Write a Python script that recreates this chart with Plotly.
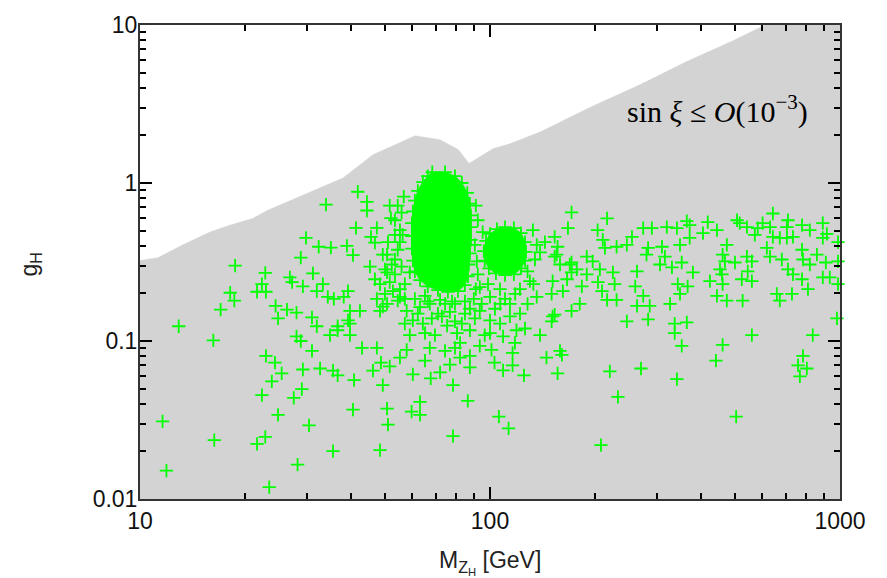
import plotly.graph_objects as go

# ---------------- data ----------------
# upper edge of the allowed (grey) region: M_ZH [GeV], g_H
boundary_M = [10, 11.26, 13.27, 15.85, 18.07, 21.0, 23.1, 28.1, 38.0, 46.3, 61.1, 71.9,
              81.1, 87.1, 102, 114, 139, 193, 268, 366, 495, 611, 1000]
boundary_g = [0.323, 0.337, 0.406, 0.489, 0.541, 0.597, 0.670, 0.807, 1.074, 1.51, 1.99, 1.88,
              1.63, 1.33, 1.65, 1.77, 2.10, 3.01, 4.18, 5.89, 7.96, 10, 10]
floor_g = 0.005

# dense clusters of scan points (outline of the saturated region)
cluster1 = [(68.4, 1.17), (74.4, 1.17), (79.4, 1.105), (83.1, 1.0), (86.1, 0.867), (87.6, 0.741),
            (88.2, 0.624), (88.2, 0.525), (88.2, 0.436), (87.6, 0.359), (87.0, 0.305), (86.5, 0.257),
            (84.8, 0.226), (81.0, 0.207), (75.8, 0.205), (71.0, 0.21), (66.4, 0.222), (63.1, 0.243),
            (61.0, 0.276), (60.2, 0.323), (59.8, 0.384), (59.8, 0.462), (59.8, 0.557), (60.2, 0.661),
            (61.0, 0.773), (62.2, 0.892), (64.3, 1.014), (66.4, 1.105)]
cluster2 = [(110.4, 0.525), (117, 0.518), (122.6, 0.482), (125.9, 0.423), (126.7, 0.366), (125.9, 0.323),
            (122.6, 0.288), (117, 0.264), (110.4, 0.261), (104, 0.268), (99.3, 0.288), (96.6, 0.323),
            (96.0, 0.371), (97.4, 0.43), (100, 0.476), (104.7, 0.51)]

# scattered scan points
points_low_mass = [
    (41.9, 0.88), (56.7, 0.82), (44.5, 0.76), (44.5, 0.67), (34.0, 0.73), (41.4, 0.52), (52.1, 0.60),
    (47.5, 0.52), (45.7, 0.456), (46.9, 0.42), (29.8, 0.45), (32.4, 0.395), (35.1, 0.39), (39.0, 0.40),
    (40.6, 0.35), (28.8, 0.337), (18.7, 0.30), (22.8, 0.27), (31.2, 0.268), (26.8, 0.253), (27.2, 0.236),
    (22.3, 0.229), (21.6, 0.205), (22.9, 0.205), (18.1, 0.202), (18.6, 0.18), (17.0, 0.158), (12.9, 0.124),
    (16.2, 0.101), (24.4, 0.167), (24.8, 0.139), (26.3, 0.158), (28.0, 0.151), (29.2, 0.222), (32.0, 0.207),
    (33.3, 0.229), (34.4, 0.19), (35.8, 0.185), (31.0, 0.141), (32.0, 0.124), (28.0, 0.107), (28.8, 0.100),
    (31.0, 0.0866), (22.9, 0.0806), (24.3, 0.073), (29.2, 0.066), (32.7, 0.067), (35.6, 0.065),
    (36.7, 0.0606), (45.4, 0.296), (46.9, 0.246), (50.8, 0.272), (39.3, 0.207), (38.2, 0.19), (39.8, 0.155),
    (39.3, 0.135), (36.7, 0.124), (34.9, 0.109), (39.8, 0.109), (42.5, 0.155), (47.5, 0.185), (49.4, 0.165),
    (52.8, 0.207), (55.3, 0.19), (43.1, 0.0905), (47.5, 0.0905), (48.8, 0.073), (51.7, 0.069), (46.3, 0.065),
    (59.0, 0.272), (57.8, 0.155), (60.2, 0.135), (59.0, 0.109), (57.8, 0.0878), (25.4, 0.0624),
    (23.8, 0.0556), (60.2, 0.0615), (67.7, 0.058), (40.9, 0.0565), (22.3, 0.0455), (29.0, 0.0496),
    (27.5, 0.0437), (24.8, 0.0341), (11.6, 0.031), (30.4, 0.0292), (22.8, 0.0247), (21.6, 0.0223),
    (16.3, 0.0236), (35.6, 0.0201), (48.5, 0.0204), (11.9, 0.0151), (28.2, 0.0165), (23.4, 0.0119),
    (40.6, 0.0368), (50.8, 0.0373), (51.1, 0.0296), (59.7, 0.0357), (63.1, 0.0412), (63.1, 0.0341),
    (78.4, 0.025), (86.4, 0.0418), (49.4, 0.0525), (78.4, 0.0525), (55.3, 0.0784), (36.7, 0.117),
    (39.8, 0.129), (55.9, 0.65), (55.3, 0.503), (55.3, 0.423), (51.1, 0.423), (50.8, 0.352), (54.5, 0.18),
    (50.8, 0.172), (48.5, 0.155), (53.5, 0.328), (57.1, 0.229), (53.5, 0.264),
    (54.5, 0.72), (53.5, 0.581), (56.3, 0.469), (54.5, 0.378), (52.4, 0.305), (55.9, 0.296), (51.7, 0.236),
    (55.3, 0.213), (50.1, 0.199), (57.1, 0.185), (48.5, 0.229), (49.4, 0.352),
    (53.5, 0.469), (51.7, 0.72), (50.1, 0.284),
]
points_mid_mass = [
    (63.1, 0.164), (67.3, 0.172), (57.1, 0.129), (64.3, 0.129), (72.9, 0.143), (75.4, 0.125), (69.6, 0.109),
    (80.5, 0.112), (87.6, 0.117), (67.3, 0.0905), (74.4, 0.0866), (82.1, 0.0972), (93.5, 0.0932),
    (101, 0.0878), (87.6, 0.0806), (116, 0.0842), (96.6, 0.109), (109, 0.107), (119, 0.117), (93.5, 0.155),
    (100, 0.135), (114, 0.143), (128, 0.172), (93.5, 0.219), (100, 0.19), (95.3, 0.489), (91.7, 0.319),
    (136, 0.406), (143.5, 0.423), (139, 0.364), (153, 0.456), (155, 0.352), (167, 0.518), (171, 0.651),
    (151, 0.239), (161.5, 0.207), (171, 0.314), (171, 0.272), (151, 0.143), (139, 0.109), (158.5, 0.0866),
    (128, 0.276), (133, 0.229), (136, 0.19), (79.4, 0.172), (84.8, 0.149), (107, 0.172), (118, 0.199),
    (76.8, 0.0709), (72.0, 0.0633), (87.6, 0.068), (103, 0.073), (65.2, 0.0751),
    (91.1, 0.72), (92.3, 0.581), (90.5, 0.406), (92.3, 0.264), (91.1, 0.213), (89.9, 0.185), (94.7, 0.172),
    (65.2, 0.193), (74.4, 0.172), (71.0, 0.149), (79.4, 0.133), (87.6, 0.16), (103.3, 0.16), (110.4, 0.185),
    (121.8, 0.149), (106.8, 0.129), (125.9, 0.12), (117.8, 0.0972), (100, 0.112), (82.1, 0.0784),
    (121.8, 0.213), (130, 0.239), (134.4, 0.328), (132.6, 0.503),
    (61.0, 0.185), (66.4, 0.178), (72.0, 0.182), (77.9, 0.178), (84.8, 0.178), (62.2, 0.149), (68.2, 0.139),
    (76.8, 0.153), (83.1, 0.129), (90.5, 0.139), (65.2, 0.112), (79.4, 0.0905), (106.8, 0.213), (114, 0.172),
    (98.7, 0.229),
]
points_high_mass = [
    (216, 0.598), (203, 0.503), (156, 0.395), (153, 0.342), (158.5, 0.305), (169, 0.305), (189, 0.342),
    (196.5, 0.319), (210, 0.436), (213, 0.389), (230, 0.395), (246, 0.406), (254.5, 0.456), (274, 0.518),
    (290, 0.518), (320, 0.525), (342, 0.518), (365, 0.573), (372, 0.541), (419, 0.565), (406, 0.482),
    (445, 0.503), (372, 0.449), (310, 0.395), (283, 0.389), (280, 0.352), (316, 0.342), (349, 0.406),
    (353, 0.314), (306, 0.305), (331, 0.292), (263, 0.276), (260, 0.222), (224.5, 0.272), (227, 0.229),
    (206, 0.284), (203.5, 0.236), (209, 0.207), (189, 0.264), (183, 0.222), (177, 0.284), (166, 0.246),
    (150, 0.199), (180.5, 0.172), (171, 0.155), (153, 0.147), (150, 0.133), (145, 0.0784), (160.5, 0.0818),
    (156, 0.0624), (125, 0.0606), (109, 0.0651), (116, 0.070), (220, 0.0642), (270, 0.067), (342, 0.0573),
    (216, 0.182), (230, 0.182), (246, 0.133), (274, 0.193), (263, 0.167), (286, 0.167), (283, 0.137),
    (327, 0.172), (337, 0.129), (365, 0.131), (337, 0.112), (353, 0.0932), (344, 0.229), (367, 0.222),
    (349, 0.199), (380, 0.272), (425, 0.239), (460, 0.264), (454, 0.284), (469, 0.319), (462, 0.229),
    (445, 0.193), (475, 0.18), (527, 0.18), (524, 0.246), (560, 0.239), (501, 0.314), (475, 0.406),
    (462, 0.352), (542, 0.342), (560, 0.319), (545, 0.276), (517, 0.557), (508, 0.581), (542, 0.525),
    (571, 0.469), (582, 0.518), (601, 0.557), (643, 0.641), (631, 0.525), (643, 0.456), (673, 0.449),
    (705, 0.449), (734, 0.456), (710, 0.581), (705, 0.525), (779, 0.541), (820, 0.503), (893, 0.557),
    (917, 0.476), (893, 0.449), (987, 0.423), (618, 0.389), (631, 0.342), (682, 0.328), (779, 0.378),
    (784, 0.328), (820, 0.305), (859, 0.352), (911, 0.314), (987, 0.319), (710, 0.284), (734, 0.264),
    (779, 0.246), (810, 0.213), (660, 0.199), (673, 0.18), (729, 0.199), (893, 0.253), (935, 0.253),
    (987, 0.229), (980, 0.139), (836, 0.109), (560, 0.109), (462, 0.0945), (442, 0.0751), (784, 0.0806),
    (759, 0.07), (804, 0.067), (768, 0.0597), (232, 0.0443), (505, 0.0332), (106, 0.0332), (113, 0.028),
    (207.5, 0.0219),
]

x_tickvals = [10, 100, 1000]
x_ticktext = ["10", "100", "1000"]
y_tickvals = [0.01, 0.1, 1, 10]
y_ticktext = ["0.01", "0.1", "1", "10"]
x_minor = [20, 30, 40, 50, 60, 70, 80, 90, 200, 300, 400, 500, 600, 700, 800, 900]
y_minor = [0.02, 0.03, 0.04, 0.05, 0.06, 0.07, 0.08, 0.09, 0.2, 0.3, 0.4, 0.5, 0.6, 0.7, 0.8, 0.9,
           2, 3, 4, 5, 6, 7, 8, 9]

# ---------------- figure ----------------
GREEN = "#00ff00"
GREY = "#d3d3d3"

fig = go.Figure()

# allowed region
fig.add_trace(go.Scatter(
    x=boundary_M + [boundary_M[-1], boundary_M[0]],
    y=boundary_g + [floor_g, floor_g],
    mode="lines", fill="toself", fillcolor=GREY,
    line=dict(color=GREY, width=0.5), hoverinfo="skip", showlegend=False))

# saturated clusters
for cl in (cluster1, cluster2):
    cx = [p[0] for p in cl] + [cl[0][0]]
    cy = [p[1] for p in cl] + [cl[0][1]]
    fig.add_trace(go.Scatter(x=cx, y=cy, mode="lines", fill="toself", fillcolor=GREEN,
                             line=dict(color=GREEN, width=1), hoverinfo="skip", showlegend=False))

all_pts = points_low_mass + points_mid_mass + points_high_mass + cluster1 + cluster2
fig.add_trace(go.Scatter(
    x=[p[0] for p in all_pts], y=[p[1] for p in all_pts], mode="markers",
    marker=dict(symbol="cross-thin", size=9.5, color=GREEN, line=dict(color=GREEN, width=1.8)),
    showlegend=False, cliponaxis=False))

axis_common = dict(
    type="log", showline=True, linecolor="#333333", linewidth=2, mirror="ticks",
    ticks="inside", ticklen=12, tickwidth=1.5, tickcolor="black",
    showgrid=False, zeroline=False,
    tickfont=dict(family="Liberation Sans, Arial, sans-serif", size=23, color="#111111"),
)

fig.update_xaxes(range=[1, 3], tickvals=x_tickvals, ticktext=x_ticktext,
                 minor=dict(tickvals=x_minor, ticks="inside", ticklen=6, tickwidth=1.5,
                            tickcolor="black", showgrid=False),
                 **axis_common)
fig.update_yaxes(range=[-2, 1], tickvals=y_tickvals, ticktext=y_ticktext,
                 ticklabelstandoff=-4,
                 minor=dict(tickvals=y_minor, ticks="inside", ticklen=6, tickwidth=1.5,
                            tickcolor="black", showgrid=False),
                 **axis_common)

fig.add_annotation(x=0.5, y=-0.135, xref="paper", yref="paper",
                   text="M<sub>Z<sub>H</sub></sub> [GeV]", showarrow=False,
                   font=dict(family="Liberation Sans, Arial, sans-serif", size=23, color="#222222"),
                   xanchor="center", yanchor="middle")
fig.add_annotation(x=-0.157, y=0.495, xref="paper", yref="paper",
                   text="g<sub>H</sub>", showarrow=False, textangle=-90,
                   font=dict(family="Liberation Sans, Arial, sans-serif", size=23, color="#222222"),
                   xanchor="center", yanchor="middle")
fig.add_annotation(x=2.649, y=0.466, xref="x", yref="y",
                   text="sin <i>ξ</i> ≤ <i>O</i>(10<sup>−3</sup>)", showarrow=False,
                   font=dict(family="Liberation Serif, Times New Roman, serif", size=30, color="black"),
                   xanchor="center", yanchor="middle")

fig.update_layout(
    width=887, height=578,
    margin=dict(l=140, r=47, t=16, b=79),
    paper_bgcolor="white", plot_bgcolor="white",
    showlegend=False,
)

fig.write_html("out.html")
